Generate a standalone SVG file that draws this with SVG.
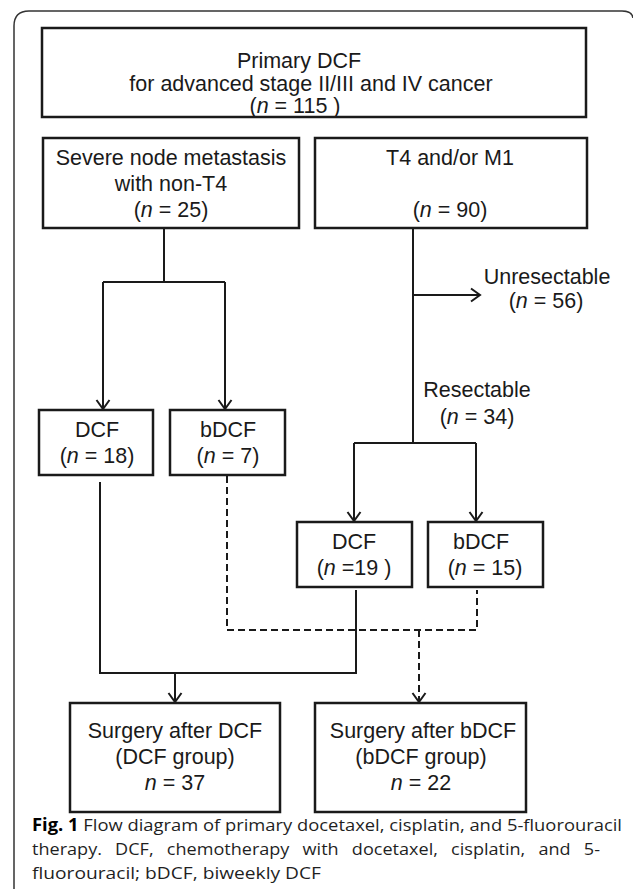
<svg xmlns="http://www.w3.org/2000/svg" width="633" height="889" viewBox="0 0 633 889">
<defs>
<style>
.box{fill:#fff;stroke:#1a1a1a;stroke-width:2.5}
.t{font-family:"Liberation Sans",Arial,sans-serif;font-size:21.5px;fill:#1a1a1a;text-anchor:middle}
.ln{fill:none;stroke:#1a1a1a;stroke-width:2}
.dash{stroke-dasharray:7 4}
.cap{font-family:"Open Sans","Noto Sans",sans-serif;font-size:17px;fill:#1f1f1f;font-weight:400}
.frame{fill:none;stroke:#333;stroke-width:1.5}
</style>
<marker id="arr" markerUnits="userSpaceOnUse" orient="auto" refX="0" refY="0" markerWidth="20" markerHeight="20" overflow="visible">
<path d="M-9,-6.5 L0,0 L-9,6.5" fill="none" stroke="#1a1a1a" stroke-width="2" stroke-dasharray="none"/>
</marker>
</defs>
<rect width="633" height="889" fill="#fff"/>
<path class="frame" d="M14,889 V26 Q14,11 29,11 H622 Q632,11 633,18"/>

<g id="connectors">
<path class="ln" d="M164,228 V282 M103,282 H225"/>
<path class="ln" d="M103,282 V409" marker-end="url(#arr)"/>
<path class="ln" d="M225,282 V409" marker-end="url(#arr)"/>
<path class="ln" d="M413,228 V443 M354,443 H476"/>
<path class="ln" d="M413,295 H480" marker-end="url(#arr)"/>
<path class="ln" d="M354,443 V521" marker-end="url(#arr)"/>
<path class="ln" d="M476,443 V521" marker-end="url(#arr)"/>
<path class="ln" d="M100,482 V673 H356 V590"/>
<path class="ln" d="M175,673 V702" marker-end="url(#arr)"/>
<path class="ln dash" d="M227,476 V630 H477 V590"/>
<path class="ln dash" d="M419,630 V702" marker-end="url(#arr)"/>
</g>

<g id="primary">
<rect class="box" x="42" y="28" width="544" height="89"/>
<text class="t" x="299" y="68">Primary DCF</text>
<text class="t" x="311" y="91">for advanced stage II/III and IV cancer</text>
<text class="t" x="295" y="113">(<tspan font-style="italic">n</tspan> = 115 )</text>
</g>

<g id="severe">
<rect class="box" x="43" y="138" width="256" height="90"/>
<text class="t" x="171" y="165">Severe node metastasis</text>
<text class="t" x="171" y="191">with non-T4</text>
<text class="t" x="171" y="217">(<tspan font-style="italic">n</tspan> = 25)</text>
</g>

<g id="t4m1">
<rect class="box" x="315" y="138" width="272" height="90"/>
<text class="t" x="450" y="165">T4 and/or M1</text>
<text class="t" x="450" y="217">(<tspan font-style="italic">n</tspan> = 90)</text>
</g>

<g id="unresectable">
<text class="t" x="547" y="284">Unresectable</text>
<text class="t" x="546" y="308">(<tspan font-style="italic">n</tspan> = 56)</text>
</g>

<g id="resectable">
<text class="t" x="477" y="397">Resectable</text>
<text class="t" x="477" y="424">(<tspan font-style="italic">n</tspan> = 34)</text>
</g>

<g id="dcf18">
<rect class="box" x="39" y="410" width="114" height="65"/>
<text class="t" x="97" y="437">DCF</text>
<text class="t" x="97" y="463">(<tspan font-style="italic">n</tspan> = 18)</text>
</g>

<g id="bdcf7">
<rect class="box" x="170" y="410" width="115" height="65"/>
<text class="t" x="228" y="437">bDCF</text>
<text class="t" x="228" y="463">(<tspan font-style="italic">n</tspan> = 7)</text>
</g>

<g id="dcf19">
<rect class="box" x="297" y="522" width="115" height="65"/>
<text class="t" x="354" y="549">DCF</text>
<text class="t" x="354" y="575">(<tspan font-style="italic">n</tspan> =19 )</text>
</g>

<g id="bdcf15">
<rect class="box" x="428" y="522" width="115" height="65"/>
<text class="t" x="481" y="549">bDCF</text>
<text class="t" x="485" y="575">(<tspan font-style="italic">n</tspan> = 15)</text>
</g>

<g id="surgery-dcf">
<rect class="box" x="70" y="703" width="210" height="109"/>
<text class="t" x="175" y="738">Surgery after DCF</text>
<text class="t" x="175" y="764">(DCF group)</text>
<text class="t" x="175" y="790"><tspan font-style="italic">n</tspan> = 37</text>
</g>

<g id="surgery-bdcf">
<rect class="box" x="315" y="703" width="211" height="109"/>
<text class="t" x="423" y="738">Surgery after bDCF</text>
<text class="t" x="421" y="764">(bDCF group)</text>
<text class="t" x="421" y="790"><tspan font-style="italic">n</tspan> = 22</text>
</g>

<g id="caption">
<text class="cap" x="32" y="831" textLength="590" lengthAdjust="spacingAndGlyphs"><tspan font-weight="700" fill="#000">Fig. 1</tspan> Flow diagram of primary docetaxel, cisplatin, and 5-fluorouracil</text>
<text class="cap" x="32" y="855" word-spacing="8" textLength="568" lengthAdjust="spacingAndGlyphs">therapy. DCF, chemotherapy with docetaxel, cisplatin, and 5-</text>
<text class="cap" x="32" y="879" textLength="289" lengthAdjust="spacingAndGlyphs">fluorouracil; bDCF, biweekly DCF</text>
</g>
</svg>
